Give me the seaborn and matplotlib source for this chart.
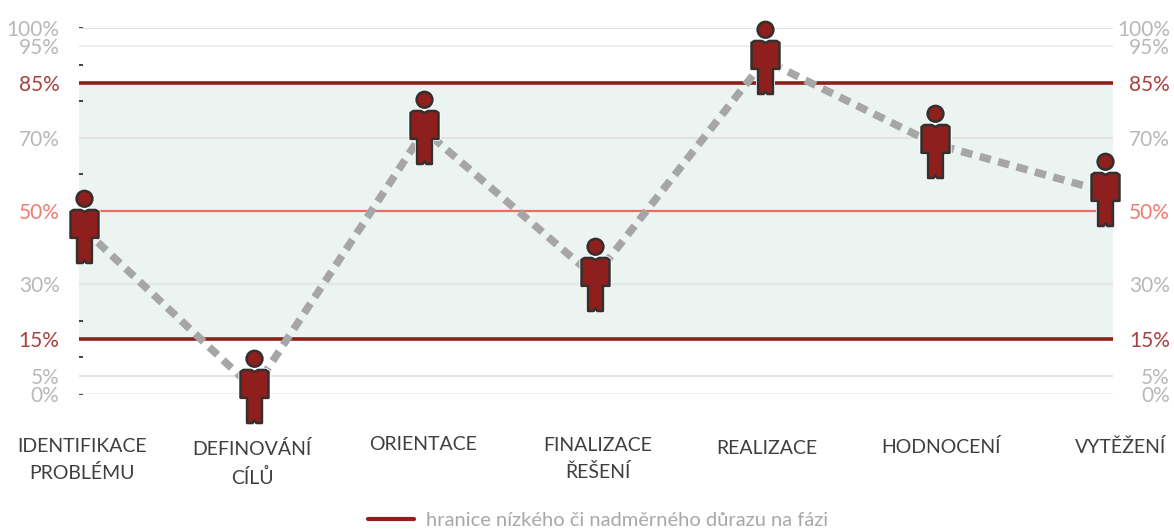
import matplotlib
matplotlib.use("Agg")
import matplotlib.pyplot as plt
import seaborn as sns
from matplotlib.lines import Line2D
from matplotlib.markers import MarkerStyle
from matplotlib.path import Path

# chart values
stages = ["IDENTIFIKACE\nPROBLÉMU", "DEFINOVÁNÍ\nCÍLŮ", "ORIENTACE", "FINALIZACE\nŘEŠENÍ",
          "REALIZACE", "HODNOCENÍ", "VYTĚŽENÍ"]
scores = [45, 1.3, 72, 32, 91.2, 68.3, 55.3]
axis_values = [0, 5, 15, 30, 50, 70, 85, 95, 100]
axis_labels = ["0%", "5%", "15%", "30%", "50%", "70%", "85%", "95%", "100%"]
minor_values = [0, 10, 20, 30, 40, 50, 60, 70, 80, 90, 100]
legend_text = "hranice nízkého či nadměrného důrazu na fázi"

# colours
RED = "#8e1f1c"
SALMON = "#ea6d62"
GREY = "#b8b8b8"
label_colors = {"15%": "#a8413f", "85%": "#a8413f", "50%": "#ec7d72"}

sns.set_theme(style="white")
plt.rcParams["font.family"] = ["Lato", "DejaVu Sans"]

fig = plt.figure(figsize=(11.74, 5.32), dpi=100)
ax = fig.add_axes([79 / 1174, 138 / 532, 1034 / 1174, 366 / 532])

# background band and horizontal rules
ax.axhspan(15, 85, color="#ecf4f2", lw=0, zorder=0)
for v, c in [(100, "#e2e2e2"), (95, "#eeeeee"), (70, "#e2e2e2"), (30, "#e4e7e6"), (5, "#e4e4e4"), (0, "#eeeeee")]:
    ax.axhline(v, color=c, lw=1.5, zorder=1)
ax.axhline(50, color=SALMON, lw=1.6, zorder=1)
ax.axhline(85, color=RED, lw=2.6, zorder=1)
ax.axhline(15, color=RED, lw=2.6, zorder=1)

# dashed line through the stages
sns.lineplot(x=stages, y=scores, ax=ax, sort=False, errorbar=None, color="#a6a6a6",
             linewidth=5.5, linestyle=(0, (1.5, 1.0)), zorder=2)

# little person used as the marker, origin sits where the line arrives
head = Path.circle((0, 33), 8.5)
body = Path(
    [(-4, 21), (-12, 21), (-15, 19), (-15, -6), (-15, -9), (-10, -9), (-8, -9), (-8, -33), (-8, -36), (-5, -36),
     (-2, -36), (0, -33), (2, -36), (5, -36), (8, -36), (8, -33), (8, -9), (10, -9), (15, -9), (15, -6), (15, 19),
     (12, 21), (4, 21), (0, 19), (-4, 21)],
    [Path.MOVETO] + [Path.LINETO] * 23 + [Path.CLOSEPOLY],
)
person = MarkerStyle(Path.make_compound_path(head, body), joinstyle="round")

sns.scatterplot(x=stages, y=scores, ax=ax, marker=person, s=3100, color="white", edgecolor="white",
                linewidth=3, clip_on=False, zorder=3)
sns.scatterplot(x=stages, y=scores, ax=ax, marker=person, s=3100, color=RED, edgecolor="#33302f",
                linewidth=1.8, clip_on=False, zorder=4)

ax.set_xlim(-0.029, 6.046)
ax.set_ylim(0, 100)
ax.set_xticks([])
ax.yaxis.remove_overlapping_locs = False
ax.set_yticks(axis_values, axis_labels)
ax.set_yticks(minor_values, minor=True)
ax.tick_params(axis="y", which="major", left=False, length=0, pad=14, labelsize=15)
ax.tick_params(axis="y", which="minor", left=True, direction="in", length=3, width=1.2, color="#222222")
ax.set_xlabel("")
ax.set_ylabel("")
sns.despine(ax=ax, left=True, bottom=True)
ax.patch.set_alpha(0)

# same labels on the right, right aligned
ax2 = ax.twinx()
ax2.set_ylim(0, 100)
ax2.set_yticks(axis_values, axis_labels)
ax2.tick_params(axis="y", right=False, length=0, pad=41, labelsize=15)
sns.despine(ax=ax2, left=True, bottom=True, right=True)
ax2.patch.set_alpha(0)
for lab in ax2.get_yticklabels():
    lab.set_horizontalalignment("right")

for a in (ax, ax2):
    for lab in a.get_yticklabels():
        lab.set_color(label_colors.get(lab.get_text(), GREY))

# stage names under the chart, nudged like in the original
nudges = [-2, -2, -1, 3, 2, 6, 15]
lifts = [0, -2, 2, 1, -2, 0, 0]
for i, name in enumerate(stages):
    ax.annotate(name, xy=(i, 0), xycoords=("data", "axes fraction"), xytext=(nudges[i], -44 + lifts[i]),
                textcoords="offset pixels", ha="center", va="top", fontsize=14, color="#3f3f3f",
                linespacing=1.6, annotation_clip=False)

# legend
handle = Line2D([0], [0], color=RED, lw=3)
leg = ax.legend([handle], [legend_text], loc="center", bbox_to_anchor=(519 / 1034, -126 / 366), frameon=False,
                fontsize=14.5, handlelength=2.3, handletextpad=0.6, labelcolor="#a8a8a8")

fig.savefig("out.png", dpi=100)
